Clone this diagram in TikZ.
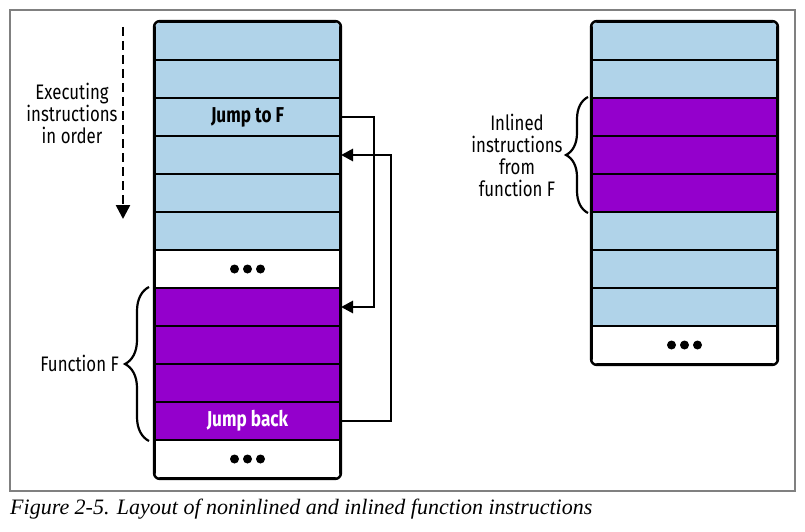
\documentclass[tikz,border=0pt]{standalone}
\usepackage{fontspec}
\setsansfont{Fira Sans}[FakeStretch=0.8]
\setmainfont{Liberation Serif}
\usetikzlibrary{arrows.meta,positioning,decorations.pathreplacing}
\definecolor{slotblue}{RGB}{176,211,233}
\definecolor{slotpurple}{RGB}{148,0,204}
\tikzset{
  slot/.style={draw=black, line width=2pt, minimum width=185pt, minimum height=38pt, inner sep=0pt, font=\sffamily\bfseries\fontsize{21.5}{23}\selectfont},
  bluslot/.style={slot, fill=slotblue},
  funslot/.style={slot, fill=slotpurple, text=white},
  dotslot/.style={slot, fill=white},
  stackframe/.style={draw=black, line width=2.4pt, rounded corners=6pt},
  jumparrow/.style={-{Triangle[length=12pt,width=12pt]}, line width=2.8pt},
  flowarrow/.style={-{Triangle[length=14pt,width=14pt]}, line width=2.6pt, dash pattern=on 9pt off 5pt},
  bracket/.style={decorate, decoration={brace, amplitude=24pt}, line width=2.2pt},
  note/.style={font=\sffamily\fontsize{21}{22}\selectfont, align=center, inner sep=0pt}
}
\begin{document}
\begin{tikzpicture}[x=1pt, y=-1pt]
\useasboundingbox (0,0) rectangle (805,532);
\draw[black!50, line width=1.3pt] (10,10) rectangle (795,491);
% ---- left stack: call to F ----
\begin{scope}
\clip[rounded corners=6pt] (155,22) rectangle (340,478);
\foreach \i/\kind/\txt in {1/bluslot/{},2/bluslot/{},3/bluslot/{Jump to F},4/bluslot/{},5/bluslot/{},6/bluslot/{},
  7/dotslot/{},8/funslot/{},9/funslot/{},10/funslot/{},11/funslot/{Jump back},12/dotslot/{}}
  \node[\kind] (L\i) at (247.5,{3+38*\i}) {\txt};
\end{scope}
\draw[stackframe] (L1.north west) rectangle (L12.south east);
\foreach \d in {-13,0,13} {
  \fill ([xshift=\d pt]L7.center) circle (4.5pt);
  \fill ([xshift=\d pt]L12.center) circle (4.5pt);
}
\draw[jumparrow] (L3.east) -- ++(33,0) |- (L8.east);
\draw[jumparrow] (L11.east) -- ++(50,0) |- (L4.east);
\coordinate (flowtop) at (123,27);
\coordinate (flowend) at (123,219);
\draw[flowarrow] (flowtop) -- (flowend);
\node[note] (flowlabel) at (72,113) {Executing\\instructions\\in order};
\draw[bracket] ([xshift=-5pt]L11.south west) -- ([xshift=-5pt]L8.north west);
\node[note, anchor=east] (fnlabel) at (119,363) {Function F};
% ---- right stack: inlined ----
\begin{scope}
\clip[rounded corners=6pt] (592,22) rectangle (777,364);
\foreach \i/\kind in {1/bluslot,2/bluslot,3/funslot,4/funslot,5/funslot,6/bluslot,7/bluslot,8/bluslot,9/dotslot}
  \node[\kind] (R\i) at (684.5,{3+38*\i}) {};
\end{scope}
\draw[stackframe] (R1.north west) rectangle (R9.south east);
\foreach \d in {-13,0,13}
  \fill ([xshift=\d pt]R9.center) circle (4.5pt);
\draw[bracket, decoration={amplitude=22pt}] ([xshift=-3pt]R5.south west) -- ([xshift=-3pt]R3.north west);
\node[note] (inlabel) at (517,155) {Inlined\\instructions\\from\\function F};
% ---- caption ----
\node[anchor=base west, inner sep=0pt, font=\itshape\fontsize{22}{24}\selectfont] (caption) at (10,514)
  {Figure 2-5. Layout of noninlined and inlined function instructions};
\end{tikzpicture}
\end{document}
